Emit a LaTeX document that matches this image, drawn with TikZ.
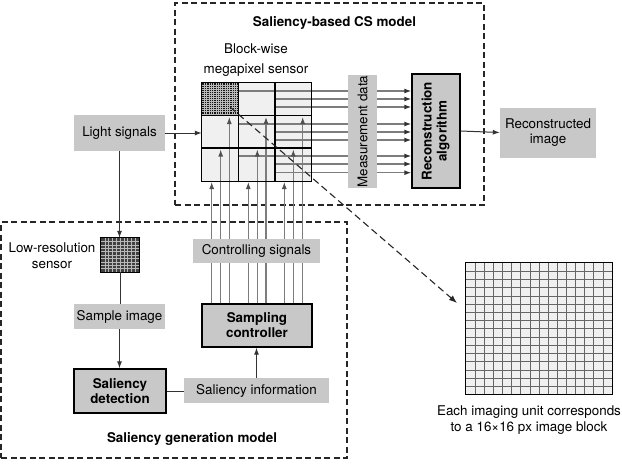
\documentclass[tikz,border=0pt]{standalone}
\usepackage{fontspec}
\setmainfont{TeX Gyre Heros}
\usetikzlibrary{arrows.meta,calc}
\definecolor{boxgray}{RGB}{200,200,200}
\definecolor{cellgray}{RGB}{240,240,240}
\definecolor{linegray}{RGB}{125,125,125}
\definecolor{tipgray}{RGB}{80,80,80}
\newcommand\fs{\fontsize{13.4}{15}\selectfont}
\begin{document}
\begin{tikzpicture}[x=1pt,y=-1pt,font=\fs,
 region/.style={draw=black!85,line width=1.6pt,dash pattern=on 6pt off 3.5pt,inner sep=0pt},
 lightbox/.style={fill=boxgray,inner sep=0pt,align=center},
 heavybox/.style={fill=boxgray,draw=black,line width=1.3pt,inner sep=0pt,align=center,font=\fs\bfseries},
 flow/.style={draw=black!80,line width=1pt},
 flowarr/.style={flow,-{Latex[length=7pt,width=5pt]}},
 meas/.style={draw=linegray,line width=1.3pt,-{Latex[length=7pt,width=5pt,color=black!80]}},
 ctl/.style={draw=linegray,line width=1.1pt},
 ctlarr/.style={ctl,-{Latex[length=7pt,width=5pt,color=tipgray]}},
 cellborder/.style={draw=black,line width=1.3pt},
 zoomline/.style={draw=black!85,line width=1.1pt,dash pattern=on 7pt off 4pt,-{Latex[length=8pt,width=6pt]}},
 title/.style={font=\fs\bfseries}]
\useasboundingbox (0,0) rectangle (622,469);

% regions
\node[region,minimum width=309pt,minimum height=202pt] (csmodel) at (329.5,104) {};
\node[region,minimum width=346pt,minimum height=236pt] (genmodel) at (174,340) {};
\node[title] (cstitle) at (334.5,23) {Saliency-based CS model};
\node[title] (gentitle) at (192,439) {Saliency generation model};

% sensor
\node[fill=cellgray,minimum width=109pt,minimum height=98pt,inner sep=0pt] (sensor) at (256.5,132) {};
\fill[black!92] (202,83) rectangle (238.5,115.7);
\foreach \i in {1,...,15} {
  \draw[gray!55,line width=0.3pt] ({202+\i*2.281},83) -- ++(0,32.7);
  \draw[gray!55,line width=0.3pt] (202,{83+\i*2.044}) -- ++(36.5,0);
}
\node[align=center] (blocklabel) at (256,60) {Block-wise\\[5.5pt]megapixel sensor};

% reconstruction
\node[heavybox,minimum width=48pt,minimum height=114pt] (recon) at (436,131)
  {\rotatebox{90}{\begin{tabular}{@{}c@{}}Reconstruction\\algorithm\end{tabular}}};
\node[lightbox,minimum height=50pt,inner xsep=5pt] (recimg) at (548,132.5) {Reconstructed\\image};
\draw[flowarr] (recon.east) -- (recimg.west);

% measurement lines
\foreach \y/\x in {91/238.5, 99/275, 107/275, 124/238.5, 132/275, 140/275, 156/238.5, 164/275, 172.7/275}
  \draw[meas] (\x,\y) -- (\x,\y -| recon.west);
\node[lightbox,minimum width=29pt,minimum height=113pt] (measdata) at (362.5,131.5) {\rotatebox{90}{Measurement data}};

% light signals
\node[lightbox,minimum width=91pt,minimum height=36pt] (light) at (119.5,133) {Light signals};
\draw[flowarr] (light.east) -- (light.east -| sensor.west);

% low resolution sensor
\node[fill=black!75,minimum width=38pt,minimum height=34pt,inner sep=0pt] (lowres) at (120,255) {};
\foreach \i in {1,...,9} {
  \draw[gray!55,line width=0.5pt] ({101+\i*3.8},238) -- ++(0,34);
  \draw[gray!55,line width=0.5pt] (101,{238+\i*3.4}) -- ++(38,0);
}
\draw[black,line width=0.8pt] (lowres.north west) rectangle (lowres.south east);
\draw[flowarr] (light.south) -- (light.south |- lowres.north);
\node[align=center] (lowreslabel) at (52,256) {Low-resolution\\[1pt]sensor};

\node[lightbox,minimum width=91pt,minimum height=25pt] (sample) at (119.5,316.5) {Sample image};
\draw[flow] (lowres.south) -- (lowres.south |- sample.north);

\node[heavybox,minimum width=92pt,minimum height=44pt] (detect) at (120,391) {Saliency\\detection};
\draw[flowarr] (sample.south) -- (sample.south |- detect.north);
\node[lightbox,minimum width=145pt,minimum height=25pt] (info) at (256.5,390.5) {Saliency information};
\draw[flow] (detect.east) -- (detect.east -| info.west);

\node[heavybox,minimum width=110pt,minimum height=43pt] (ctrl) at (257,325.5) {Sampling\\controller};
\draw[flowarr] (info.north) -- (info.north |- ctrl.south);

% controlling lines
\foreach \x/\t in {211.7/182, 220.7/149.5, 229.3/117, 248.3/182, 257.3/149.5, 266/117, 284.3/182, 293.3/149.5, 302.7/117}
  \draw[ctlarr] (\x,0 |- ctrl.north) -- (\x,\t);
\node[lightbox,minimum width=127pt,minimum height=24pt] (ctrlsig) at (256.5,251) {Controlling signals};

% sensor borders
\draw[cellborder] (sensor.north west) rectangle (sensor.south east);
\draw[cellborder] (238.5,83) -- (238.5,181) (275,83) -- (275,181) (202,115.7) -- (311,115.7) (202,148) -- (311,148);

% image block
\node[fill=cellgray,minimum width=146pt,minimum height=131.5pt,inner sep=0pt] (block) at (539,328.75) {};
\foreach \i in {1,...,15} {
  \draw[black!60,line width=0.7pt] ({466+\i*9.125},263) -- ++(0,131.5);
  \draw[black!60,line width=0.7pt] (466,{263+\i*8.219}) -- ++(146,0);
}
\draw[black,line width=1.2pt] (block.north west) rectangle (block.south east);
\node[align=center] (caption) at (529,420) {Each imaging unit corresponds\\[1pt]to a 16×16 px image block};

% zoom line
\coordinate (zoomfrom) at (230,107);
\coordinate (zoomto) at (457,303);
\draw[zoomline] (zoomfrom) -- (zoomto);
\end{tikzpicture}
\end{document}
